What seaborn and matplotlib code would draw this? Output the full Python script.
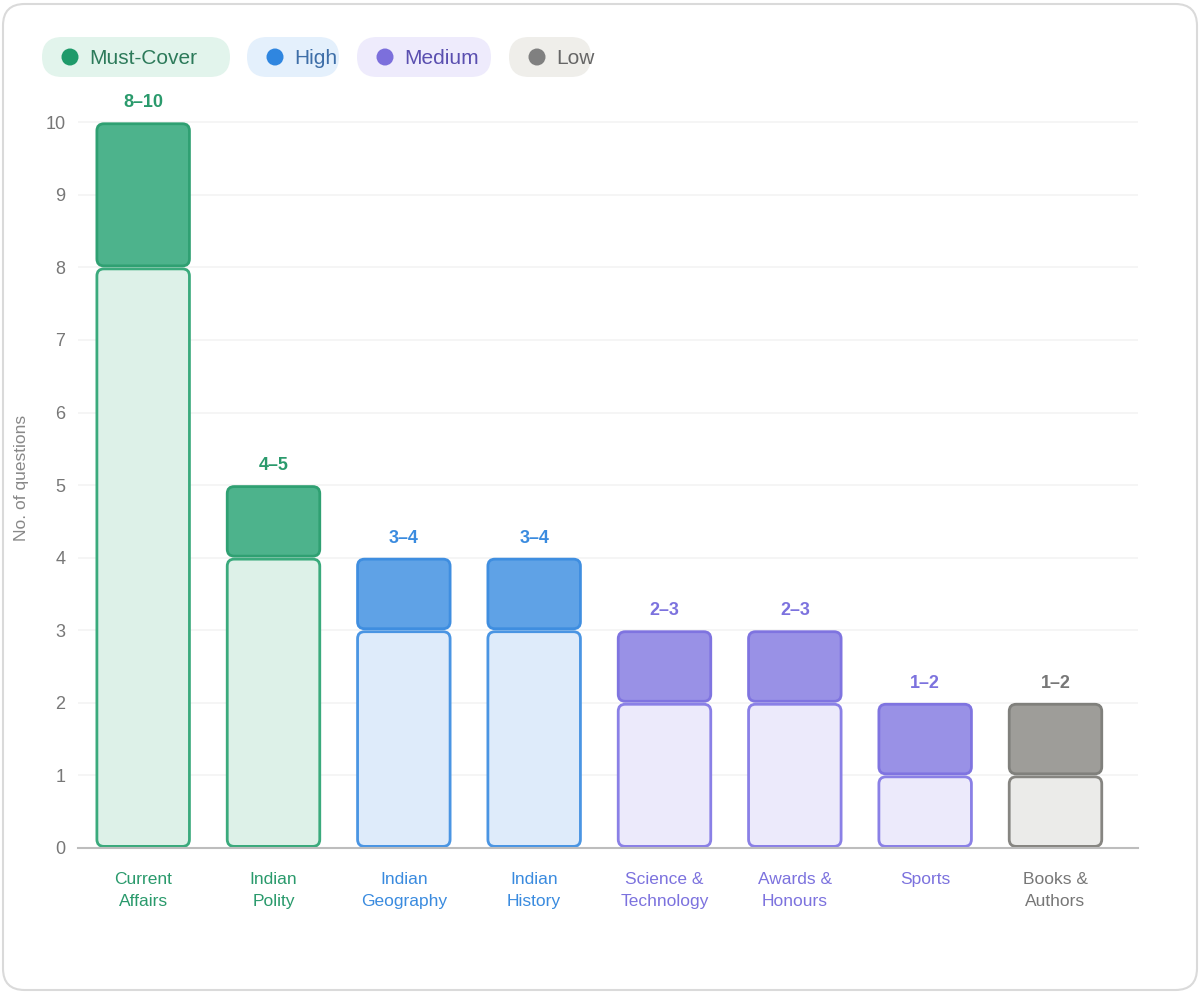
import matplotlib
matplotlib.use("Agg")
import matplotlib.pyplot as plt
import seaborn as sns
from matplotlib.patches import FancyBboxPatch, Circle

# data
topics = ["Current\nAffairs", "Indian\nPolity", "Indian\nGeography", "Indian\nHistory",
          "Science &\nTechnology", "Awards &\nHonours", "Sports", "Books &\nAuthors"]
low_vals = [8, 4, 3, 3, 2, 2, 1, 1]
high_vals = [10, 5, 4, 4, 3, 3, 2, 2]
range_labels = ["8\u201310", "4\u20135", "3\u20134", "3\u20134", "2\u20133", "2\u20133", "1\u20132", "1\u20132"]
priority = ["Must-Cover", "Must-Cover", "High", "High", "Medium", "Medium", "Medium", "Low"]
legend_names = ["Must-Cover", "High", "Medium", "Low"]

# colours per priority: (upper fill, upper edge, lower fill, lower edge, text, dot, chip bg)
styles = {
    "Must-Cover": ("#4DB38C", "#2FA072", "#DDF1E8", "#3AAA7C", "#2A9A6C", "#1E9A6A", "#E2F4EC"),
    "High": ("#5FA2E6", "#3F8EE0", "#DEEBFA", "#4A95E3", "#3A8BDF", "#2F86E0", "#E4F0FC"),
    "Medium": ("#9991E6", "#7F74E0", "#ECEAFB", "#8A80E6", "#7C72DE", "#7C6FDC", "#EEEBFC"),
    "Low": ("#9E9D99", "#80807C", "#EBEBE9", "#868581", "#777777", "#808080", "#EFEEEA"),
}
legend_text_col = {"Must-Cover": "#2C7A5A", "High": "#3D6EA8", "Medium": "#5A4FB0", "Low": "#666666"}

sns.set_theme(style="white")
plt.rcParams["font.family"] = ["Liberation Sans", "DejaVu Sans"]

fig = plt.figure(figsize=(12, 10.07), dpi=100)
ax = fig.add_axes([0.065, 0.158, 0.883, 0.735])

sns.barplot(x=topics, y=high_vals, color="#cccccc", width=0.71, ax=ax)
n_hi = len(ax.patches)
sns.barplot(x=topics, y=low_vals, color="#cccccc", width=0.71, ax=ax)
rects = list(ax.patches)
hi_rects = rects[:n_hi]
lo_rects = rects[n_hi:]

ax.set_ylim(0, 10.2)
ax.set_xlim(-0.5, 7.63)

# pixel scale for rounded corners
xpx = 0.883 * 1200 / 8.13
ypx = 0.735 * 1007 / 10.2
aspect = xpx / ypx
gap = 1.5 / ypx

for i, (rh, rl) in enumerate(zip(hi_rects, lo_rects)):
    uf, ue, lf, le, tc, dc, cb = styles[priority[i]]
    x0, w = rh.get_x(), rh.get_width()
    top, low = rh.get_height(), rl.get_height()
    rh.remove()
    rl.remove()
    r = 7 / xpx
    lower = FancyBboxPatch((x0, 0 + gap), w, low - 2 * gap,
                           boxstyle=f"round,pad=0,rounding_size={r}",
                           mutation_aspect=aspect, facecolor=lf, edgecolor=le, lw=2, zorder=3)
    upper = FancyBboxPatch((x0, low + gap), w, top - low - 2 * gap,
                           boxstyle=f"round,pad=0,rounding_size={r}",
                           mutation_aspect=aspect, facecolor=uf, edgecolor=ue, lw=2, zorder=3)
    ax.add_patch(lower)
    ax.add_patch(upper)
    ax.annotate(range_labels[i], (x0 + w / 2, top), xytext=(0, 8), textcoords="offset points",
                ha="center", va="bottom", fontsize=13, fontweight="bold", color=tc,
                annotation_clip=False)

# axes styling
ax.set_yticks(range(0, 11))
ax.grid(axis="y", color="#F3F3F3", lw=1.2, zorder=0)
ax.set_axisbelow(True)
for s in ["top", "right", "left"]:
    ax.spines[s].set_visible(False)
ax.spines["bottom"].set_color("#BDBDBD")
ax.spines["bottom"].set_linewidth(1.5)
ax.spines["bottom"].set_zorder(4)
ax.tick_params(axis="y", length=0, pad=9, labelsize=13, labelcolor="#777777")
ax.tick_params(axis="x", length=0, pad=17, labelsize=12.5)
for lab, p in zip(ax.get_xticklabels(), priority):
    lab.set_color(styles[p][4])
    lab.set_linespacing(1.6)
ax.set_ylabel("No. of questions", fontsize=12.5, color="#888888", labelpad=12)

# legend chips
chip_x = [42, 247, 357, 509]
chip_w = [188, 92, 134, 82]
for name, cx, cw in zip(legend_names, chip_x, chip_w):
    uf, ue, lf, le, tc, dc, cb = styles[name]
    chip = FancyBboxPatch((cx / 1200, 1 - 77 / 1007), cw / 1200, 40 / 1007,
                          boxstyle="round,pad=0,rounding_size=0.0167",
                          mutation_aspect=1200 / 1007,
                          transform=fig.transFigure, facecolor=cb, edgecolor="none")
    fig.patches.append(chip)
    dot = Circle(((cx + 28) / 100, (1007 - 57) / 100), 0.085,
                 transform=fig.dpi_scale_trans, facecolor=dc, edgecolor="none")
    fig.patches.append(dot)
    fig.text((cx + 47) / 1200, 1 - 58 / 1007, name, ha="left", va="center",
             fontsize=15, color=legend_text_col[name])

# card border
card = FancyBboxPatch((3 / 1200, 17 / 1007), 1194 / 1200, 986 / 1007,
                      boxstyle="round,pad=0,rounding_size=0.018",
                      mutation_aspect=1200 / 1007,
                      transform=fig.transFigure, facecolor="none", edgecolor="#DADADA", lw=1.5)
fig.patches.append(card)

fig.savefig("out.png", dpi=100)
